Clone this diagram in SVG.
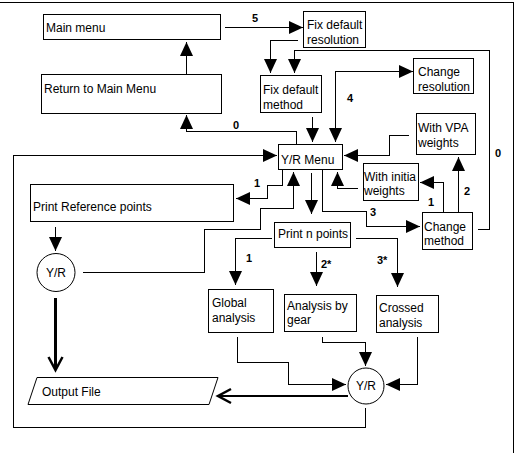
<svg xmlns="http://www.w3.org/2000/svg" width="518" height="453" viewBox="0 0 518 453">
<style>
rect.n{fill:#fff;stroke:#000;stroke-width:1;shape-rendering:crispEdges}
circle.n,polygon.n{fill:#fff;stroke:#000;stroke-width:1}
text{font-family:"Liberation Sans",Arial,sans-serif;font-size:12px;fill:#000}
text.c{text-anchor:middle}
text.lb{font-weight:bold;font-size:11px}
.cn path{fill:none;stroke:#000;stroke-width:1;shape-rendering:crispEdges}
.cn path.thick{stroke-width:2.5}
</style>
<defs>
<marker id="a" markerUnits="userSpaceOnUse" markerWidth="14" markerHeight="14" refX="14" refY="6.5" orient="auto-start-reverse" overflow="visible">
<path d="M0,0 L14,6.5 L0,13 Z" fill="#000" stroke="none"/>
</marker>
<marker id="v" markerUnits="userSpaceOnUse" markerWidth="14" markerHeight="16" refX="13" refY="7" orient="auto" overflow="visible">
<path d="M0,0 L13,7 L0,14" fill="none" stroke="#000" stroke-width="2.5"/>
</marker>
</defs>
<rect width="518" height="453" fill="#fff"/>
<path d="M0,2.5 H513.5 V453" fill="none" stroke="#000" stroke-width="1" shape-rendering="crispEdges"/>

<g class="cn" id="connectors">
<path d="M186.5,74 V42" marker-end="url(#a)"/>
<path d="M296.5,144 V131.5 H186.5 V115" marker-end="url(#a)"/>
<path d="M225,27.5 H303" marker-end="url(#a)"/>
<path d="M298,40.5 H270.5 V73" marker-end="url(#a)"/>
<path d="M478,229.5 H489.5 V50.5 H294.5 V73" marker-end="url(#a)"/>
<path d="M312.5,117 V142" marker-end="url(#a)"/>
<path d="M413,71.5 H335.5 V142" marker-start="url(#a)" marker-end="url(#a)"/>
<path d="M409,135.5 H389.5 V155.5 H344" marker-end="url(#a)"/>
<path d="M358,188.5 H337.5 V172" marker-end="url(#a)"/>
<path d="M443.5,212 V182.5 H420" marker-end="url(#a)"/>
<path d="M458.5,212 V157" marker-end="url(#a)"/>
<path d="M322.5,169 V211.5 H366.5 V226.5 H420" marker-end="url(#a)"/>
<path d="M311.5,173 V214" marker-end="url(#a)"/>
<path d="M282.5,169 V185.5 H267.5 V198.5 H236" marker-end="url(#a)"/>
<path d="M83,272.5 H204.5 V229.5 H260.5 V208.5 H293.5 V172" marker-end="url(#a)"/>
<path d="M365.5,408 V427.5 H13.5 V155.5 H277" marker-end="url(#a)"/>
<path d="M55.5,227 V251" marker-end="url(#a)"/>
<path class="thick" d="M55.5,298 V370" marker-end="url(#v)"/>
<path class="thick" d="M348,396 H218" marker-end="url(#v)"/>
<path d="M272,238.5 H235.5 V285" marker-end="url(#a)"/>
<path d="M316.5,252 V286" marker-end="url(#a)"/>
<path d="M356,238.5 H397.5 V287" marker-end="url(#a)"/>
<path d="M237.5,337 V362.5 H288.5 V384.5 H346" marker-end="url(#a)"/>
<path d="M322.5,337 V342.5 H365.5 V366" marker-end="url(#a)"/>
<path d="M417.5,337 V384.5 H386" marker-end="url(#a)"/>
<text class="lb" x="252" y="22">5</text>
<text class="lb" x="233" y="129">0</text>
<text class="lb" x="347" y="102">4</text>
<text class="lb" x="495" y="157">0</text>
<text class="lb" x="254" y="187">1</text>
<text class="lb" x="428" y="206">1</text>
<text class="lb" x="464" y="195">2</text>
<text class="lb" x="370" y="216">3</text>
<text class="lb" x="246" y="262">1</text>
<text class="lb" x="321" y="268">2*</text>
<text class="lb" x="377" y="264">3*</text>
</g>

<g id="main-menu"><rect class="n" x="43.5" y="14.5" width="177" height="25"/><text x="46" y="32">Main menu</text></g>
<g id="return-main-menu"><rect class="n" x="41.5" y="74.5" width="180" height="39"/><text x="44" y="93">Return to Main Menu</text></g>
<g id="fix-default-resolution"><rect class="n" x="303.5" y="11.5" width="62" height="36"/><text x="307" y="29">Fix default</text><text x="307" y="44">resolution</text></g>
<g id="fix-default-method"><rect class="n" x="260.5" y="75.5" width="61" height="37"/><text x="263" y="94">Fix default</text><text x="263" y="109">method</text></g>
<g id="change-resolution"><rect class="n" x="413.5" y="58.5" width="60" height="35"/><text x="418" y="76">Change</text><text x="418" y="91">resolution</text></g>
<g id="yr-menu"><rect class="n" x="278.5" y="144.5" width="64" height="25"/><text x="281" y="164">Y/R Menu</text></g>
<g id="with-vpa-weights"><rect class="n" x="416.5" y="113.5" width="59" height="41"/><text x="418" y="132">With VPA</text><text x="418" y="147">weights</text></g>
<g id="with-initial-weights"><rect class="n" x="363.5" y="163.5" width="55" height="37"/><text x="364" y="181">With initia</text><text x="364" y="195">weights</text></g>
<g id="change-method"><rect class="n" x="422.5" y="212.5" width="50" height="37"/><text x="424" y="231">Change</text><text x="424" y="245">method</text></g>
<g id="print-reference-points"><rect class="n" x="30.5" y="184.5" width="203" height="37"/><text x="33" y="211">Print Reference points</text></g>
<g id="yr-left"><circle class="n" cx="56" cy="272.5" r="19"/><text class="c" x="56" y="277">Y/R</text></g>
<g id="print-n-points"><rect class="n" x="274.5" y="222.5" width="76" height="25"/><text x="278" y="238">Print n points</text></g>
<g id="global-analysis"><rect class="n" x="208.5" y="289.5" width="65" height="43"/><text x="212" y="307">Global</text><text x="212" y="322">analysis</text></g>
<g id="analysis-by-gear"><rect class="n" x="284.5" y="294.5" width="72" height="37"/><text x="287" y="310">Analysis by</text><text x="287" y="324">gear</text></g>
<g id="crossed-analysis"><rect class="n" x="376.5" y="295.5" width="62" height="37"/><text x="379" y="312">Crossed</text><text x="379" y="327">analysis</text></g>
<g id="yr-right"><circle class="n" cx="366" cy="386" r="18"/><text class="c" x="366" y="390">Y/R</text></g>
<g id="output-file"><polygon class="n" points="37,377.5 218,377.5 209,404.5 28,404.5"/><text x="42" y="396">Output File</text></g>
</svg>
